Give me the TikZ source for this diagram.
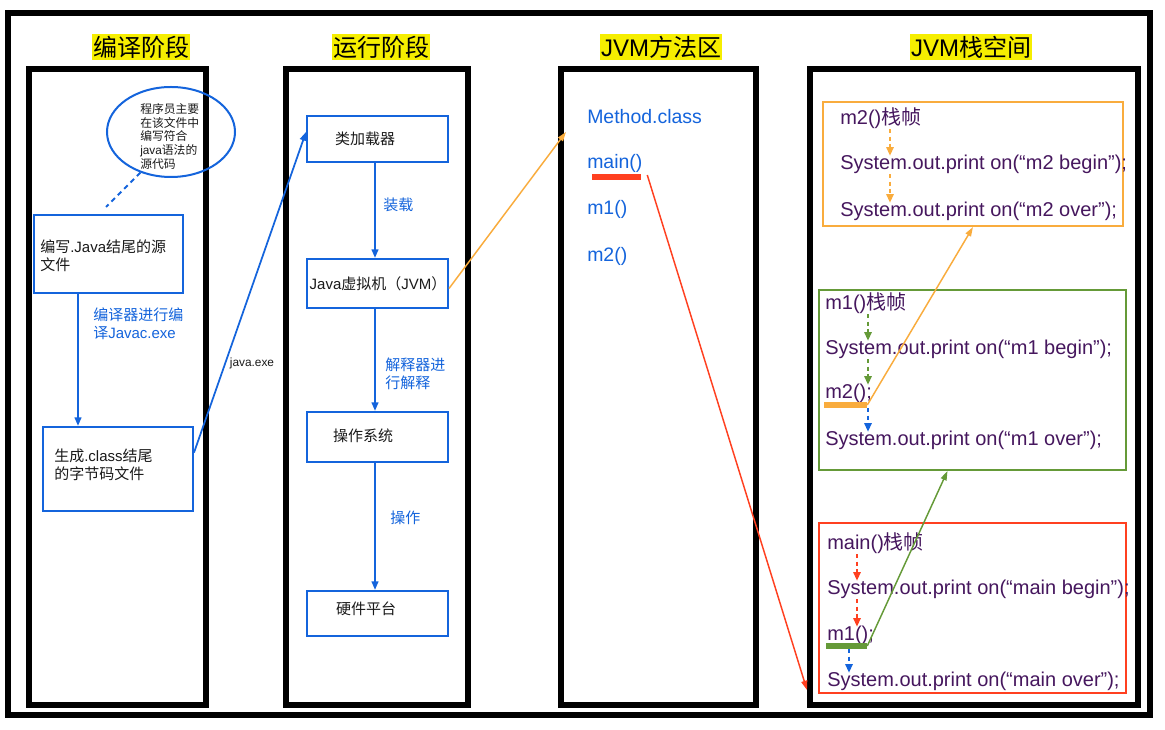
\documentclass[tikz,border=0pt]{standalone}
\usepackage{fontspec}
\setmainfont{Liberation Sans}
\newfontfamily\cjk{Noto Sans CJK SC}
\usetikzlibrary{arrows.meta,shapes.geometric,fit,calc}
\definecolor{jblue}{HTML}{1464DC}
\definecolor{jorange}{HTML}{F9AC3D}
\definecolor{jred}{HTML}{FF4020}
\definecolor{jgreen}{HTML}{659A38}
\definecolor{jpurple}{HTML}{46175E}
\definecolor{jyellow}{HTML}{F6EE00}
\definecolor{jtext}{HTML}{1A1A1A}
\tikzset{
  frame/.style={draw=black, line width=4.5pt, inner sep=0pt},
  bbox/.style={draw=jblue, line width=1.5pt, inner sep=0pt},
  cframe/.style={line width=1.5pt, inner sep=0pt},
  bar/.style={inner sep=0pt, draw=none},
  title/.style={fill=jyellow, text=black, font=\fontsize{18}{20}\selectfont, inner xsep=0.5pt, inner ysep=1.5pt},
  btxt/.style={font=\fontsize{11.25}{13.5}\selectfont, text=jtext, align=left, inner sep=0pt},
  ltxt/.style={font=\fontsize{11.25}{13.5}\selectfont, text=jblue, align=left, inner sep=0pt, anchor=west},
  mtxt/.style={font=\fontsize{14.6}{17}\selectfont, text=jblue, anchor=west, inner sep=0pt},
  code/.style={font=\fontsize{15}{18}\selectfont, text=jpurple, anchor=west, inner sep=0pt, text height=10.5pt, text depth=3pt},
  barr/.style={draw=jblue, line width=1.5pt, -{Triangle[length=6.5pt,width=5pt]}},
  thinarr/.style={line width=1.1pt, -{Triangle[length=7pt,width=4.5pt]}},
  darr/.style={line width=1.4pt, dash pattern=on 3pt off 2.5pt, -{Triangle[length=6.5pt,width=5.5pt]}}
}
\begin{document}
\begin{tikzpicture}[x=0.75pt,y=-0.75pt]
\useasboundingbox[fill=white] (0,0) rectangle (1165,730);

% outer frame and columns
\node[frame, fit={(8,13)(1150,715)}] (outer) {};
\node[frame, fit={(29,69)(206,705)}] (c1) {};
\node[frame, fit={(286,69)(468,705)}] (c2) {};
\node[frame, fit={(561,69)(756,705)}] (c3) {};
\node[frame, fit={(810,69)(1138,705)}] (c4) {};

% titles
\node[title] (t1) at (141,47) {\cjk 编译阶段};
\node[title] (t2) at (381,47) {\cjk 运行阶段};
\node[title] (t3) at (661,47) {JVM{\cjk 方法区}};
\node[title] (t4) at (971,47) {JVM{\cjk 栈空间}};

% column 1
\node[draw=jblue, line width=1.5pt, ellipse, minimum width=96pt, minimum height=67.5pt, inner sep=0pt] (el) at (171,132) {};
\node[btxt, anchor=west, font=\cjk\fontsize{8.85}{10.3}\selectfont, text=jtext] (elt) at (140,136.5)
  {程序员主要\\在该文件中\\编写符合\\{\rmfamily java}语法的\\源代码};
\coordinate (de) at (106,207);
\draw[draw=jblue, line width=1.5pt, dash pattern=on 3.75pt off 3pt] (el.233) -- (de);

\node[bbox, fit={(34,215)(183,293)}] (b1) {};
\node[btxt, anchor=west] (b1t) at (40,256) {{\cjk 编写}.Java{\cjk 结尾的源}\\{\cjk 文件}};
\node[bbox, fit={(43,427)(193,511)}] (b2) {};
\node[btxt, anchor=west] (b2t) at (54,465) {{\cjk 生成}.class{\cjk 结尾}\\{\cjk 的字节码文件}};
\coordinate (ax1) at (78,0);
\draw[barr] (b1.south -| ax1) -- (b2.north -| ax1);
\node[ltxt] (l1) at (93,324) {{\cjk 编译器进行编}\\{\cjk 译}Javac.exe};

% column 2
\node[bbox, fit={(307,116)(448,162)}] (cl) {};
\node[btxt] (clt) at (365,139) {\cjk 类加载器};
\node[bbox, fit={(307,259)(448,308)}] (jvm) {};
\node[btxt] (jvmt) at (378,284) {Java{\cjk 虚拟机（}JVM{\cjk ）}};
\node[bbox, fit={(307,412)(448,462)}] (os) {};
\node[btxt] (ost) at (363,436) {\cjk 操作系统};
\node[bbox, fit={(307,591)(448,636)}] (hw) {};
\node[btxt] (hwt) at (366,609) {\cjk 硬件平台};
\coordinate (ax2) at (375,0);
\draw[barr] (cl.south -| ax2) -- (jvm.north -| ax2);
\draw[barr] (jvm.south -| ax2) -- (os.north -| ax2);
\draw[barr] (os.south -| ax2) -- (hw.north -| ax2);
\node[ltxt] (l2) at (383,205) {\cjk 装载};
\node[ltxt] (l3) at (385,374) {{\cjk 解释器进}\\{\cjk 行解释}};
\node[ltxt] (l4) at (390,518) {\cjk 操作};

% java.exe arrow
\draw[barr, line width=1.3pt] ($(b2.north east)!0.31!(b2.south east)$) -- ($(cl.west)+(0,-7)$);
\node[font=\fontsize{8.9}{10}\selectfont, text=jtext, inner sep=0pt] (jx) at (252,363) {java.exe};

% JVM -> method area
\coordinate (mc) at (566,132);
\draw[thinarr, draw=jorange] ($(jvm.east)+(0,5)$) -- (mc);

% column 3
\node[mtxt] (mclass) at (587,117) {Method.class};
\node[mtxt] (mmain) at (587,163) {main()};
\node[bar, fill=jred, fit={(592,174)(641,180)}] (rb) {};
\node[mtxt] (mm1) at (587,209) {m1()};
\node[mtxt] (mm2) at (587,256) {m2()};
\coordinate (rt) at (807,690);
\draw[thinarr, draw=jred] ($(rb.east)+(6,-2)$) -- (rt);

% column 4: m2 frame
\node[cframe, draw=jorange, fit={(823,102)(1123,226)}] (of) {};
\node[code] (o1) at (840,120) {m2(){\cjk 栈帧}};
\node[code] (o2) at (840,165) {System.out.print on(“m2 begin”);};
\node[code] (o3) at (840,212) {System.out.print on(“m2 over”);};
\coordinate (xo) at (890,0);
\draw[darr, draw=jorange] (o1.south -| xo) -- (o2.north -| xo);
\draw[darr, draw=jorange] (o2.south -| xo) -- (o3.north -| xo);

% m1 frame
\node[cframe, draw=jgreen, fit={(819,290)(1126,470)}] (gf) {};
\node[code] (g1) at (825,305) {m1(){\cjk 栈帧}};
\node[code] (g2) at (825,350) {System.out.print on(“m1 begin”);};
\node[code] (g3) at (825,394) {m2();};
\node[bar, fill=jorange, fit={(824,402)(867,408)}] (ob) {};
\node[code] (g4) at (825,441) {System.out.print on(“m1 over”);};
\coordinate (xg) at (868,0);
\draw[darr, draw=jgreen] (g1.south -| xg) -- (g2.north -| xg);
\draw[darr, draw=jgreen] (g2.south -| xg) -- (g3.north -| xg);
\draw[darr, draw=jblue] (ob.south -| xg) -- (g4.north -| xg);
\draw[thinarr, draw=jorange] (ob.east) -- (of.south);

% main frame
\node[cframe, draw=jred, fit={(819,523)(1126,693)}] (rf) {};
\node[code] (r1) at (827,545) {main(){\cjk 栈帧}};
\node[code] (r2) at (827,590) {System.out.print on(“main begin”);};
\node[code] (r3) at (827,636) {m1();};
\node[bar, fill=jgreen, fit={(826,643)(867,649)}] (gb) {};
\node[code] (r4) at (827,682) {System.out.print on(“main over”);};
\coordinate (xr) at (857,0);
\coordinate (xb) at (849,0);
\draw[darr, draw=jred] (r1.south -| xr) -- (r2.north -| xr);
\draw[darr, draw=jred] (r2.south -| xr) -- (r3.north -| xr);
\draw[darr, draw=jblue] (gb.south -| xb) -- (r4.north -| xb);
\draw[thinarr, draw=jgreen] (gb.east) -- ($(gf.south)+(-25,0)$);
\end{tikzpicture}
\end{document}
